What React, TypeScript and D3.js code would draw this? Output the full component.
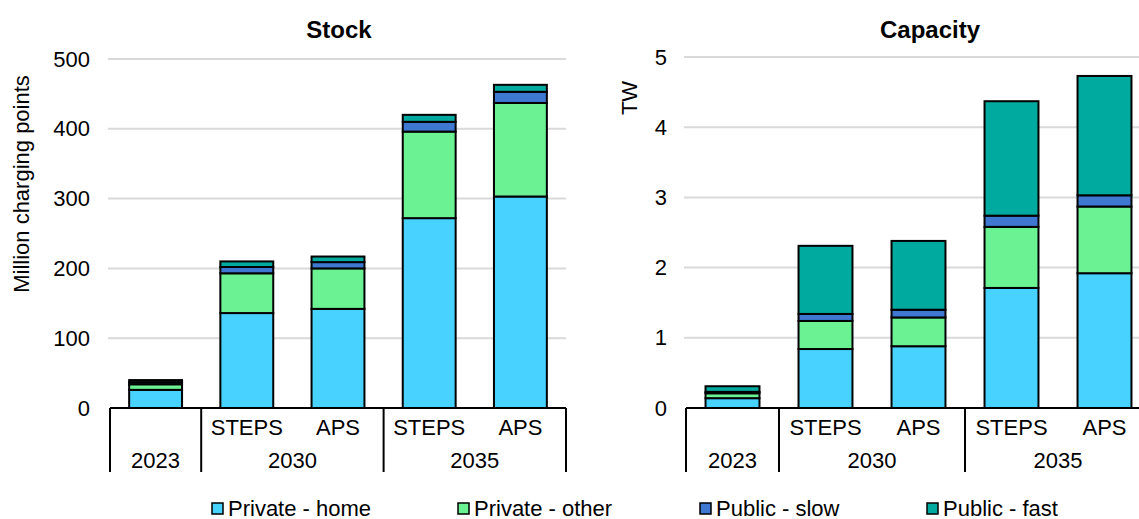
import React from "react";
import * as d3 from "d3";

const barLabels = ["", "STEPS", "APS", "STEPS", "APS"];
const yearGroups = [
  { year: "2023", start: 0, end: 1 },
  { year: "2030", start: 1, end: 3 },
  { year: "2035", start: 3, end: 5 },
];
const seriesNames = ["Private - home", "Private - other", "Public - slow", "Public - fast"];
const seriesColors = ["#48D2FF", "#6AF293", "#3E78D0", "#00AA9E"];

const stockHome = [26, 136, 142, 272, 303];
const stockOther = [8, 57, 58, 124, 134];
const stockSlow = [3, 9, 9, 14, 16];
const stockFast = [3, 8, 8, 10, 10];

const capHome = [0.14, 0.84, 0.88, 1.71, 1.92];
const capOther = [0.07, 0.4, 0.41, 0.87, 0.95];
const capSlow = [0.02, 0.1, 0.11, 0.16, 0.16];
const capFast = [0.08, 0.97, 0.98, 1.63, 1.7];

const stockTicks = [0, 100, 200, 300, 400, 500];
const capTicks = [0, 1, 2, 3, 4, 5];

const FONT = "'Liberation Sans', Arial, sans-serif";
const FS = 22;

type PanelProps = {
  title: string;
  yLabel: string;
  series: number[][];
  ticks: number[];
  yMax: number;
  x0: number;
  x1: number;
  yTop: number;
  yBase: number;
  tickX: number;
  titleX: number;
  yLabelX: number;
  yLabelY: number;
};

function Panel(p: PanelProps) {
  const idx = d3.range(barLabels.length);
  const rows = idx.map((i) => {
    const r: any = { i };
    seriesNames.forEach((n, k) => (r[n] = p.series[k][i]));
    return r;
  });
  const stacked = d3.stack<any>().keys(seriesNames)(rows);
  const x = d3
    .scaleBand<number>()
    .domain(idx)
    .range([p.x0, p.x1])
    .paddingInner(0.42)
    .paddingOuter(0.21);
  const y = d3.scaleLinear().domain([0, p.yMax]).range([p.yBase, p.yTop]);
  const step = (p.x1 - p.x0) / barLabels.length;
  const boundary = (k: number) => p.x0 + k * step;
  const bottom = p.yBase + 64;
  return (
    <g fontFamily={FONT}>
      <text x={p.titleX} y={38} textAnchor="middle" fontWeight="bold" fontSize={24}>
        {p.title}
      </text>
      <text
        transform={`translate(${p.yLabelX},${p.yLabelY}) rotate(-90)`}
        textAnchor="middle"
        fontSize={FS}
        dominantBaseline="central"
      >
        {p.yLabel}
      </text>
      {p.ticks.map((t) => (
        <g key={t}>
          {t > 0 && (
            <line x1={p.x0 - 2} x2={p.x1} y1={y(t)} y2={y(t)} stroke="#d9d9d9" strokeWidth={2} />
          )}
          <text x={p.tickX} y={y(t)} textAnchor="end" dominantBaseline="central" fontSize={FS}>
            {t}
          </text>
        </g>
      ))}
      {stacked.map((s, k) => (
        <g key={k}>
          {s.map((d, i) => (
            <rect
              key={i}
              x={x(i)}
              width={x.bandwidth()}
              y={y(d[1])}
              height={Math.max(0, y(d[0]) - y(d[1]))}
              fill={seriesColors[k]}
              stroke="#000"
              strokeWidth={2}
            />
          ))}
        </g>
      ))}
      <line x1={p.x0} x2={p.x1} y1={p.yBase} y2={p.yBase} stroke="#000" strokeWidth={2} />
      {[0, 1, 3, 5].map((k) => (
        <line
          key={k}
          x1={boundary(k)}
          x2={boundary(k)}
          y1={p.yBase}
          y2={bottom}
          stroke="#000"
          strokeWidth={2}
        />
      ))}
      {barLabels.map((l, i) => (
        <text
          key={i}
          x={(x(i) as number) + x.bandwidth() / 2}
          y={p.yBase + 19}
          textAnchor="middle"
          dominantBaseline="central"
          fontSize={FS}
        >
          {l}
        </text>
      ))}
      {yearGroups.map((g) => (
        <text
          key={g.year}
          x={(boundary(g.start) + boundary(g.end)) / 2}
          y={p.yBase + 52}
          textAnchor="middle"
          dominantBaseline="central"
          fontSize={FS}
        >
          {g.year}
        </text>
      ))}
    </g>
  );
}

const legendX = [212, 458, 700, 927];

export default function App() {
  return (
    <svg
      width={1139}
      height={519}
      style={{ position: "absolute", left: 0, top: 0, background: "#fff" }}
    >
      <Panel
        title="Stock"
        yLabel="Million charging points"
        series={[stockHome, stockOther, stockSlow, stockFast]}
        ticks={stockTicks}
        yMax={500}
        x0={110}
        x1={566}
        yTop={59}
        yBase={408}
        tickX={90}
        titleX={339}
        yLabelX={21}
        yLabelY={184}
      />
      <Panel
        title="Capacity"
        yLabel="TW"
        series={[capHome, capOther, capSlow, capFast]}
        ticks={capTicks}
        yMax={5}
        x0={686}
        x1={1151}
        yTop={57}
        yBase={408}
        tickX={667}
        titleX={930}
        yLabelX={629}
        yLabelY={98}
      />
      <g fontFamily={FONT}>
        {seriesNames.map((n, k) => (
          <g key={n}>
            <rect
              x={legendX[k]}
              y={503}
              width={11}
              height={11}
              fill={seriesColors[k]}
              stroke="#000"
              strokeWidth={1.5}
            />
            <text x={legendX[k] + 16} y={508} dominantBaseline="central" fontSize={FS}>
              {n}
            </text>
          </g>
        ))}
      </g>
    </svg>
  );
}
